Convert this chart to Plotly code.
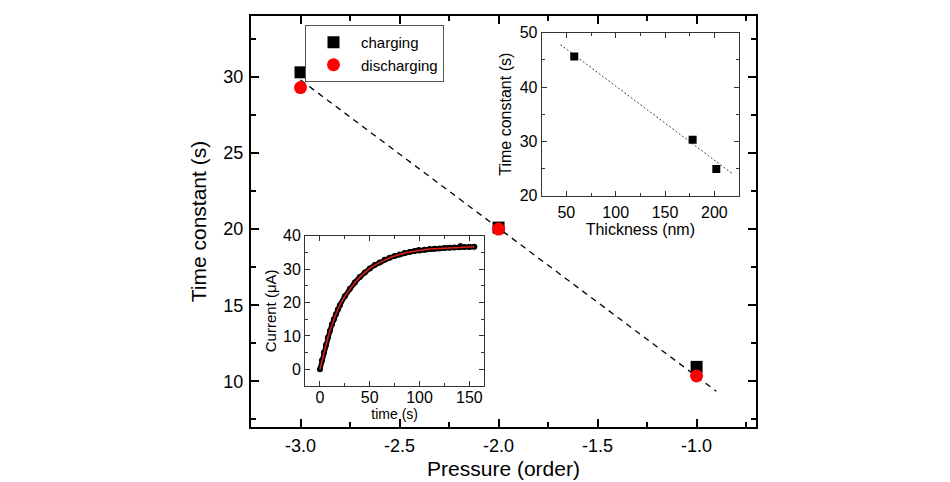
import plotly.graph_objects as go

# ---------------- data ----------------
pressure = [-3.0, -2.0, -1.0]
tau_charging = [30.3, 20.1, 10.95]
tau_discharging = [29.3, 20.0, 10.35]
fit_pressure = [-3.0, -0.9]
fit_tau = [29.8, 9.35]

x_tick_vals = [-3.0, -2.5, -2.0, -1.5, -1.0]
x_tick_text = ["-3.0", "-2.5", "-2.0", "-1.5", "-1.0"]

thickness = [58, 178, 202]
tau_thickness = [45.6, 30.3, 24.9]
fit_thickness = [44, 218]
fit_tau_thickness = [47.8, 24.1]

time_s = [0, 2, 4, 6, 8, 10, 12, 14, 16, 18, 20, 25, 30, 35, 40, 45, 50, 55, 60,
          65, 70, 75, 80, 85, 90, 95, 100, 105, 110, 115, 120, 125, 130, 135,
          140, 145, 150, 155]
current_uA = [0, 2.6, 5.0, 7.3, 9.5, 11.5, 13.4, 15.0, 16.5, 17.9, 19.2, 21.9,
              24.1, 26.0, 27.6, 29.0, 30.2, 31.2, 32.0, 32.8, 33.4, 33.9, 34.4,
              34.8, 35.1, 35.4, 35.6, 35.8, 36.0, 36.1, 36.2, 36.3, 36.4, 36.5,
              36.55, 36.6, 36.65, 36.7]
time_spikes = [99, 141]
current_spikes = [35.9, 37.1]

# the figure div sits inside the default 8px body margin of the page
PAGE_OFF = 8
W, H = 950 - PAGE_OFF, 482 - PAGE_OFF
FONT = "Liberation Sans, Arial, sans-serif"

def px_x(a, b):
    return [(a - PAGE_OFF) / W, (b - PAGE_OFF) / W]

def px_y(top, bottom):
    return [1 - (bottom - PAGE_OFF) / H, 1 - (top - PAGE_OFF) / H]

fig = go.Figure()

# main plot
fig.add_trace(go.Scatter(x=fit_pressure, y=fit_tau, mode="lines",
                         line=dict(color="black", width=1.3, dash="6px,5px"),
                         showlegend=False, xaxis="x", yaxis="y"))
fig.add_trace(go.Scatter(x=pressure, y=tau_charging, mode="markers", name="charging",
                         marker=dict(symbol="square", size=12, color="black"),
                         xaxis="x", yaxis="y"))
fig.add_trace(go.Scatter(x=pressure, y=tau_discharging, mode="markers", name="discharging",
                         marker=dict(symbol="circle", size=13, color="#ff0000"),
                         xaxis="x", yaxis="y"))

# inset 1 (thickness)
fig.add_trace(go.Scatter(x=fit_thickness, y=fit_tau_thickness, mode="lines",
                         line=dict(color="#444", width=1, dash="2px,2px"),
                         showlegend=False, xaxis="x2", yaxis="y2"))
fig.add_trace(go.Scatter(x=thickness, y=tau_thickness, mode="markers",
                         marker=dict(symbol="square", size=8, color="black"),
                         showlegend=False, xaxis="x2", yaxis="y2"))

# inset 2 (current vs time)
fig.add_trace(go.Scatter(x=time_s, y=current_uA, mode="lines+markers",
                         line=dict(color="black", width=5),
                         marker=dict(size=6, color="black"),
                         showlegend=False, xaxis="x3", yaxis="y3"))
fig.add_trace(go.Scatter(x=time_spikes, y=current_spikes, mode="markers",
                         marker=dict(size=5, color="black"),
                         showlegend=False, xaxis="x3", yaxis="y3"))
fig.add_trace(go.Scatter(x=time_s, y=current_uA, mode="lines",
                         line=dict(color="#e0201a", width=1.5),
                         showlegend=False, xaxis="x3", yaxis="y3"))

tick_font_main = dict(family=FONT, size=18, color="black")
title_font_main = dict(family=FONT, size=21, color="black")

common_main = dict(showline=True, linewidth=2, linecolor="black", mirror="allticks",
                   ticks="inside", ticklen=8, tickwidth=1.5, tickcolor="black",
                   showgrid=False, zeroline=False, tickfont=tick_font_main,
                   automargin=False)

def inset_axis(**kw):
    d = dict(showline=True, linewidth=1, linecolor="#333", mirror="allticks",
             ticks="inside", ticklen=5, tickcolor="#333",
             showgrid=False, zeroline=False, automargin=False,
             tickfont=dict(family=FONT, size=16, color="black"))
    d.update(kw)
    return d

fig.update_layout(
    width=W, height=H,
    margin=dict(l=0, r=0, t=0, b=0, autoexpand=False),
    paper_bgcolor="white", plot_bgcolor="white",
    font=dict(family=FONT, color="black"),
    xaxis=dict(domain=px_x(251, 756), range=[-3.25, -0.7], anchor="y",
               tickmode="array", tickvals=x_tick_vals, ticktext=x_tick_text,
               ticklabelstandoff=1,
               minor=dict(dtick=0.25, tick0=-3.25, ticks="inside", ticklen=5,
                          tickwidth=1.5, tickcolor="black"),
               title=dict(text="Pressure (order)", font=title_font_main, standoff=7),
               **common_main),
    yaxis=dict(domain=px_y(16, 427), range=[7, 34], anchor="x",
               dtick=5, tick0=0, ticklabelstandoff=2,
               minor=dict(dtick=2.5, tick0=0, ticks="inside", ticklen=5,
                          tickwidth=1.5, tickcolor="black"),
               title=dict(text="Time constant (s)", font=title_font_main, standoff=11),
               **common_main),
    xaxis2=inset_axis(domain=px_x(541.7, 739), range=[25, 225], anchor="y2",
                      dtick=50, tick0=0, ticklabelstandoff=2,
                      minor=dict(dtick=25, ticks="inside", ticklen=3, tickcolor="#333"),
                      title=dict(text="Thickness (nm)",
                                 font=dict(family=FONT, size=16, color="black"), standoff=3)),
    yaxis2=inset_axis(domain=px_y(32.7, 195.7), range=[20, 50], anchor="x2",
                      dtick=10, tick0=0,
                      minor=dict(dtick=5, ticks="inside", ticklen=3, tickcolor="#333"),
                      title=dict(text="Time constant (s)",
                                 font=dict(family=FONT, size=16, color="black"), standoff=4)),
    xaxis3=inset_axis(domain=px_x(305, 484.3), range=[-15, 165], anchor="y3",
                      dtick=50, tick0=0, ticklabelstandoff=-3,
                      minor=dict(dtick=25, ticks="inside", ticklen=3, tickcolor="#333"),
                      title=dict(text="time (s)",
                                 font=dict(family=FONT, size=14, color="black"), standoff=0)),
    yaxis3=inset_axis(domain=px_y(235.7, 386), range=[-5, 40], anchor="x3",
                      dtick=10, tick0=0,
                      minor=dict(dtick=5, ticks="inside", ticklen=3, tickcolor="#333"),
                      title=dict(text="Current (\u03bcA)",
                                 font=dict(family=FONT, size=15, color="black"), standoff=2)),
    legend=dict(x=(305 - PAGE_OFF) / W, y=1 - (25 - PAGE_OFF) / H,
                xanchor="left", yanchor="top",
                bordercolor="#555", borderwidth=1, bgcolor="white",
                font=dict(family=FONT, size=15, color="black"),
                itemwidth=45, tracegroupgap=0),
)

fig.write_html("out.html")
